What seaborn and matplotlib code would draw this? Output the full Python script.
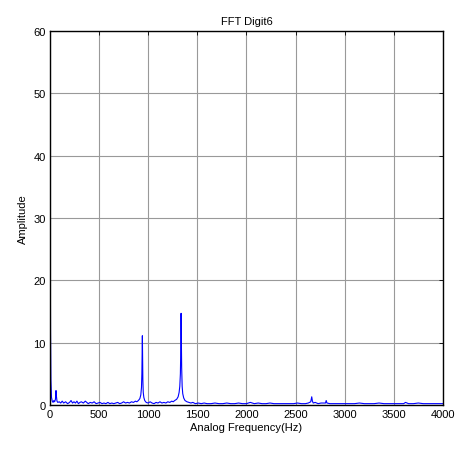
import numpy as np
import pandas as pd
import matplotlib
matplotlib.use('Agg')
import matplotlib.pyplot as plt
import seaborn as sns

# spectrum (Hz, amplitude), 10 per row
freq = [0, 3, 6, 10, 16, 24, 32, 40, 48, 56,
        62, 66, 72, 80, 95, 110, 125, 140, 160, 180,
        200, 215, 230, 245, 260, 275, 290, 305, 320, 340,
        360, 375, 390, 410, 430, 450, 470, 490, 510, 530,
        550, 570, 590, 610, 630, 650, 670, 690, 710, 730,
        750, 770, 790, 810, 830, 850, 870, 885, 900, 915,
        925, 932, 936, 939, 941, 943, 946, 950, 956, 965,
        980, 1000, 1020, 1040, 1060, 1080, 1100, 1120, 1140, 1160,
        1180, 1200, 1220, 1240, 1255, 1270, 1290, 1305, 1315, 1322,
        1328, 1332, 1335, 1338, 1341, 1346, 1352, 1362, 1375, 1395,
        1415, 1435, 1455, 1480, 1510, 1540, 1570, 1600, 1640, 1680,
        1720, 1760, 1800, 1840, 1880, 1920, 1960, 2000, 2040, 2080,
        2120, 2160, 2200, 2240, 2280, 2320, 2360, 2400, 2440, 2480,
        2520, 2560, 2600, 2630, 2655, 2665, 2672, 2680, 2700, 2730,
        2760, 2790, 2805, 2812, 2820, 2850, 2900, 2950, 3000, 3050,
        3100, 3150, 3200, 3250, 3300, 3350, 3400, 3450, 3500, 3550,
        3600, 3620, 3650, 3700, 3750, 3800, 3850, 3900, 3950, 4000]
amp = [50.0, 30.0, 12.0, 4.0, 1.2, 0.6, 0.4, 0.7, 0.5, 0.9,
       2.3, 1.4, 0.6, 0.4, 0.5, 0.3, 0.6, 0.3, 0.5, 0.2,
       0.4, 0.7, 0.3, 0.5, 0.3, 0.6, 0.2, 0.4, 0.5, 0.3,
       0.6, 0.4, 0.2, 0.4, 0.3, 0.5, 0.2, 0.3, 0.4, 0.2,
       0.3, 0.2, 0.4, 0.2, 0.3, 0.2, 0.3, 0.4, 0.2, 0.3,
       0.5, 0.3, 0.4, 0.3, 0.5, 0.4, 0.6, 0.5, 0.7, 1.0,
       1.6, 2.8, 5.0, 9.0, 11.1, 8.0, 4.0, 2.0, 1.2, 0.7,
       0.4, 0.3, 0.5, 0.3, 0.2, 0.4, 0.3, 0.5, 0.3, 0.4,
       0.3, 0.5, 0.4, 0.6, 0.5, 0.7, 0.9, 1.3, 2.0, 3.0,
       5.0, 9.0, 14.7, 11.0, 6.0, 3.0, 1.8, 1.1, 0.7, 0.5,
       0.4, 0.3, 0.4, 0.2, 0.3, 0.2, 0.3, 0.2, 0.2, 0.3,
       0.2, 0.2, 0.3, 0.2, 0.2, 0.3, 0.2, 0.2, 0.4, 0.2,
       0.3, 0.2, 0.2, 0.3, 0.2, 0.2, 0.2, 0.2, 0.2, 0.2,
       0.3, 0.2, 0.2, 0.3, 0.5, 1.3, 0.6, 0.3, 0.4, 0.2,
       0.3, 0.3, 0.3, 0.7, 0.3, 0.2, 0.2, 0.2, 0.2, 0.2,
       0.2, 0.3, 0.2, 0.2, 0.2, 0.3, 0.2, 0.2, 0.2, 0.2,
       0.2, 0.4, 0.2, 0.2, 0.3, 0.2, 0.2, 0.2, 0.2, 0.2]

spectrum = pd.DataFrame({'freq': freq, 'amp': amp})

sns.set_style('white')
plt.rcParams['font.family'] = ['Liberation Sans', 'DejaVu Sans']

fig = plt.figure(figsize=(4.58, 4.52), dpi=100)
ax = fig.add_axes([0.109, 0.102, 0.858, 0.827])

sns.lineplot(
    x = 'freq',
    y = 'amp',
    data = spectrum,
    color = '#0000ff',
    linewidth = 0.8,
    ax = ax
)

ax.set_xlim(0, 4000)
ax.set_ylim(0, 60)
ax.set_xticks(np.arange(0, 4001, 500))
ax.set_yticks(np.arange(0, 61, 10))
ax.grid(True, color='#999999', linewidth=0.8)
ax.set_axisbelow(True)
for s in ax.spines.values():
    s.set_color('black')
    s.set_linewidth(1.0)
ax.tick_params(direction='in', length=3, width=0.6, labelsize=8,
               top=True, right=True, colors='black', pad=3)

ax.set_title('FFT Digit6', fontsize=8, pad=5, color='black')
ax.set_xlabel('Analog Frequency(Hz)', fontsize=8, labelpad=2, color='black')
ax.set_ylabel('Amplitude', fontsize=8, labelpad=4, color='black')

fig.savefig('out.png', dpi=100)
